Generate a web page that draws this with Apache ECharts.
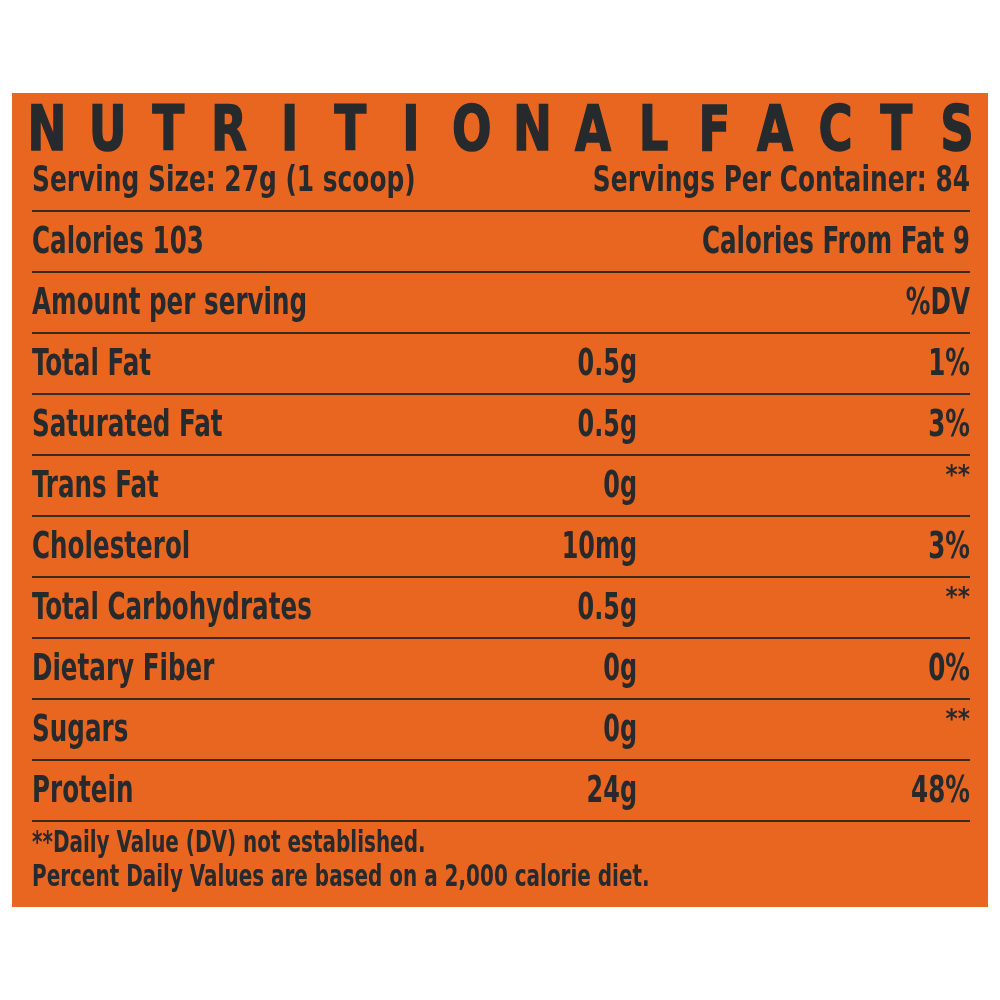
<!DOCTYPE html>
<html lang="en">
<head>
    <meta charset="UTF-8">
    <title>Nutritional Facts</title>
    <script src="https://cdn.jsdelivr.net/npm/echarts@6/dist/echarts.min.js"></script>
    <style>
        body {
            padding: 0;
            margin: 0;
            border: none;
            background: #fff;
        }
    </style>
</head>
<body>
<div style="width: 1000px;height: 1000px;" id="ec"></div>
<script>
    // 数据
    const heading = 'NUTRITIONALFACTS';
    const servingSize = 'Serving Size: 27g (1 scoop)';
    const servingsPerContainer = 'Servings Per Container: 84';
    const calories = 103;
    const caloriesFromFat = 9;
    const nutrients = ['Total Fat', 'Saturated Fat', 'Trans Fat', 'Cholesterol', 'Total Carbohydrates', 'Dietary Fiber', 'Sugars', 'Protein'];
    const amounts = ['0.5g', '0.5g', '0g', '10mg', '0.5g', '0g', '0g', '24g'];
    const dailyValues = ['1%', '3%', '**', '3%', '**', '0%', '**', '48%'];
    const footnotes = ['**Daily Value (DV) not established.', 'Percent Daily Values are based on a 2,000 calorie diet.'];

    const ORANGE = '#e8661f';
    const INK = '#272a2d';
    // 没有窄体字, 用 scaleX 压扁
    const FONT = '"Liberation Sans Narrow", "DejaVu Sans Condensed", sans-serif';

    // 表格行: 前两行是表头
    let rowNames = ['Calories ' + calories, 'Amount per serving'].concat(nutrients);
    let rowAmounts = ['', ''].concat(amounts);
    let rowDV = ['Calories From Fat ' + caloriesFromFat, '%DV'].concat(dailyValues);

    let ec = echarts.init(document.getElementById('ec'));

    let graphics = [{
        type: 'rect',
        z: -10,
        shape: {x: 12, y: 93, width: 976, height: 814},
        style: {fill: ORANGE}
    }];
    let step = (957 - 47) / (heading.length - 1);
    heading.split('').forEach((ch, i) => {
        graphics.push({
            type: 'text',
            x: 47 + i * step,
            y: 134,
            scaleX: 0.82,
            style: {
                text: ch, fill: INK, stroke: INK, lineWidth: 1.5, font: 'bold 63px ' + FONT,
                textAlign: 'center', textVerticalAlign: 'middle'
            }
        });
    });
    graphics.push({
        type: 'text', x: 32, y: 182, scaleX: 0.79,
        style: {text: servingSize, fill: INK, font: 'bold 35px ' + FONT, textAlign: 'left', textVerticalAlign: 'middle'}
    });
    graphics.push({
        type: 'text', x: 970, y: 182, scaleX: 0.79,
        style: {text: servingsPerContainer, fill: INK, font: 'bold 35px ' + FONT, textAlign: 'right', textVerticalAlign: 'middle'}
    });
    footnotes.forEach((t, i) => {
        graphics.push({
            type: 'text', x: 32, y: 844 + i * 34, scaleX: 0.74,
            style: {text: t, fill: INK, font: 'bold 30px ' + FONT, textAlign: 'left', textVerticalAlign: 'middle'}
        });
    });

    // 列位置 (x 轴 0-1)
    const colPos = [0, 0.645, 1];

    let option = {
        backgroundColor: '#fff',
        animation: false,
        graphic: graphics,
        grid: {
            left: 32,
            right: 30,
            top: 211,
            bottom: 179
        },
        xAxis: {
            type: 'value',
            min: 0,
            max: 1,
            show: false
        },
        yAxis: {
            type: 'category',
            inverse: true,
            data: rowNames,
            axisLine: {show: false},
            axisTick: {show: false},
            axisLabel: {show: false},
            splitLine: {
                show: true,
                lineStyle: {color: '#3a2a20', width: 2}
            }
        },
        series: [{
            type: 'custom',
            z: 5,
            data: rowNames.map((_, i) => [i]),
            renderItem: function (params, api) {
                let i = api.value(0);
                let p0 = api.coord([colPos[0], i]);
                let p1 = api.coord([colPos[1], i]);
                let p2 = api.coord([colPos[2], i]);
                let font = 'bold 38px ' + FONT;
                let isStar = rowDV[i] === '**';
                return {
                    type: 'group',
                    children: [{
                        type: 'text',
                        x: p0[0], y: p0[1] + 2, scaleX: 0.72,
                        style: {text: rowNames[i], fill: INK, font: font, textAlign: 'left', textVerticalAlign: 'middle'}
                    }, {
                        type: 'text',
                        x: p1[0], y: p1[1] + 2, scaleX: 0.7,
                        style: {text: rowAmounts[i], fill: INK, font: font, textAlign: 'right', textVerticalAlign: 'middle'}
                    }, {
                        type: 'text',
                        x: p2[0], y: p2[1] + (isStar ? -8 : 2), scaleX: isStar ? 1 : 0.72,
                        style: {text: rowDV[i], fill: INK, font: isStar ? 'bold 26px ' + FONT : font, textAlign: 'right', textVerticalAlign: 'middle'}
                    }]
                };
            }
        }]
    };
    ec.setOption(option);
</script>
</body>
</html>
